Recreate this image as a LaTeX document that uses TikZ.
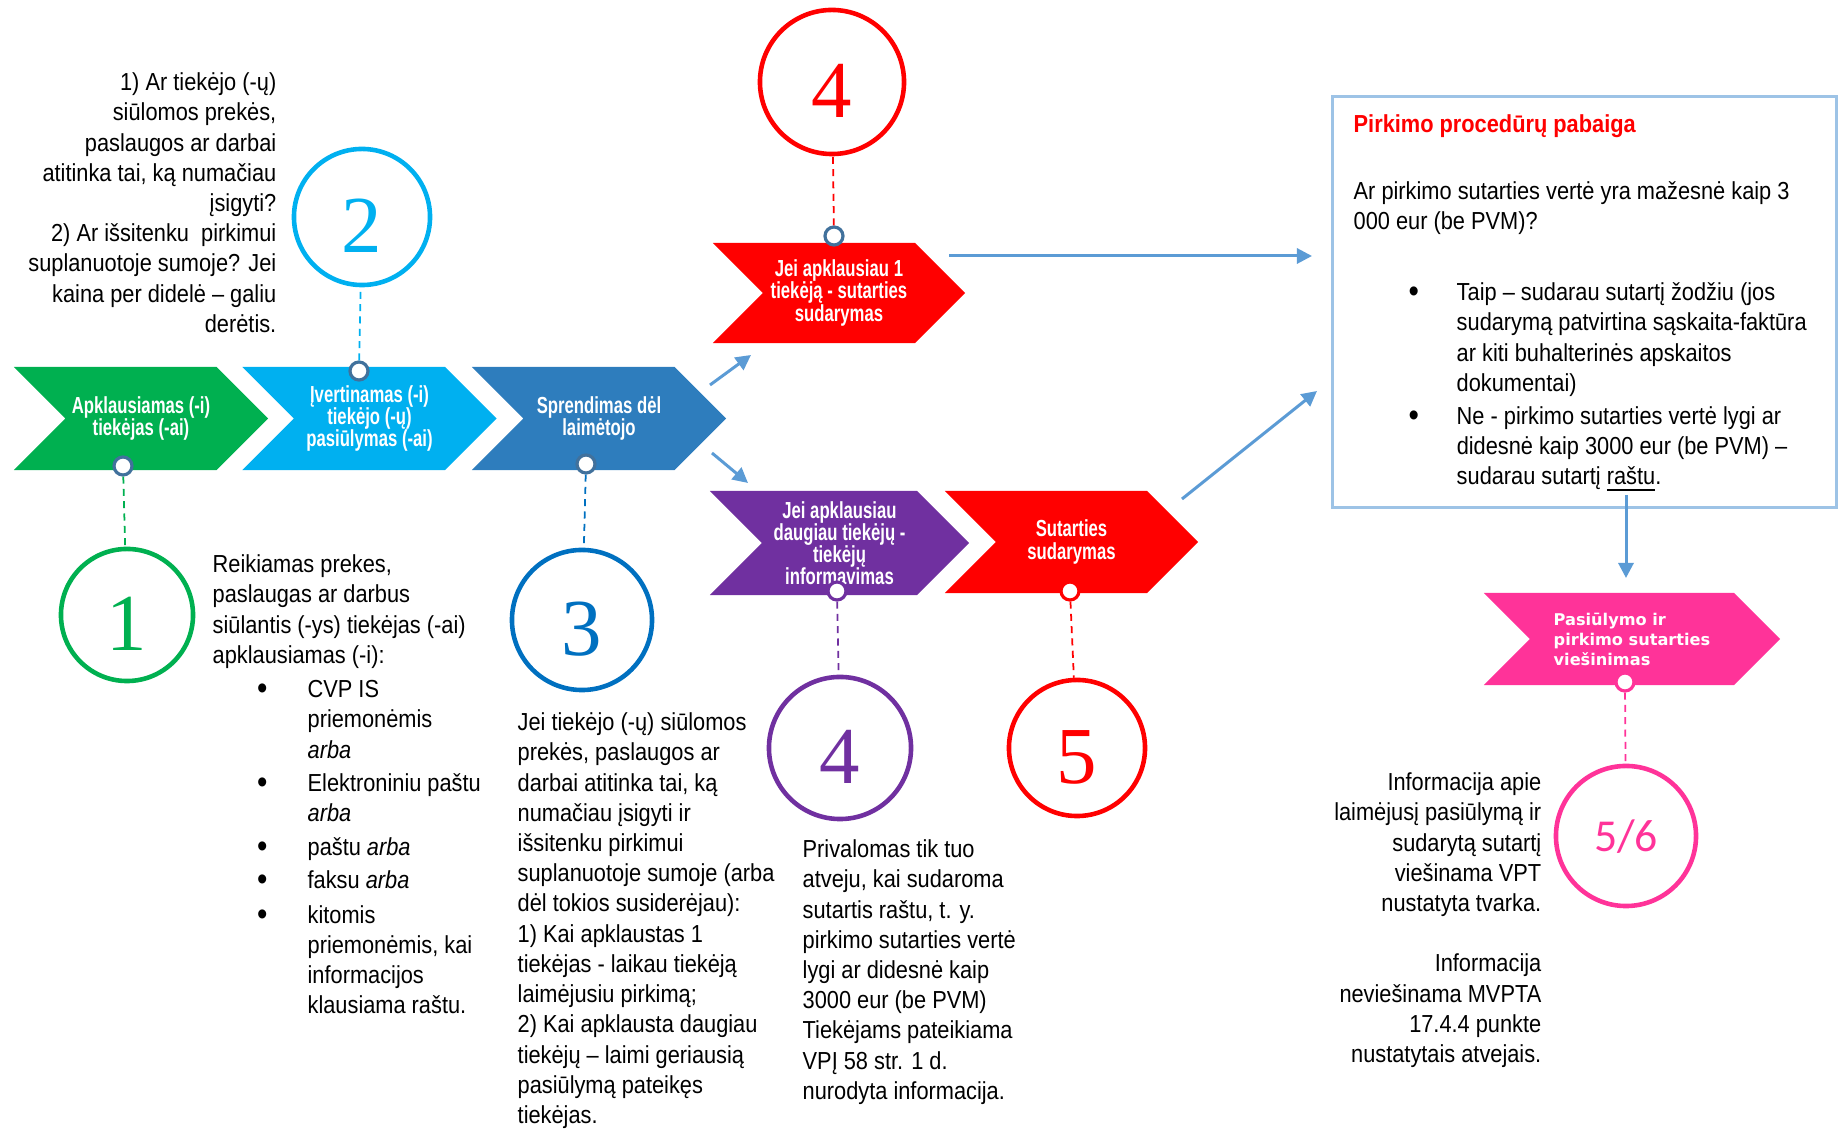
\documentclass[tikz,border=0pt]{standalone}
\usepackage{fontspec}
\usetikzlibrary{shapes.symbols,arrows.meta}
\newfontfamily\bodyFont[FakeStretch=0.885]{Liberation Sans}
\newfontfamily\chevronFont[FakeStretch=0.72]{Liberation Sans}
\newfontfamily\pinkFont{DejaVu Sans}
\newfontfamily\ringFont{Liberation Serif}
\newfontfamily\fracFont{Carlito}
\definecolor{cGreen}{HTML}{00B050}
\definecolor{cSky}{HTML}{00B0F0}
\definecolor{cSteel}{HTML}{2E7DBD}
\definecolor{cNavy}{HTML}{0070C0}
\definecolor{cRed}{HTML}{FF0000}
\definecolor{cPurple}{HTML}{7030A0}
\definecolor{cPink}{HTML}{FF3399}
\definecolor{cArrow}{HTML}{5B9BD5}
\definecolor{cFrame}{HTML}{9DC3E6}
\definecolor{cDot}{HTML}{41719C}
\newcommand{\bigdot}{\raisebox{-0.6pt}{\fontsize{9.5}{9.5}\selectfont\textbullet}}
\newcommand{\bul}{\makebox[27pt][l]{\hspace*{12.6pt}\bigdot}}
\newcommand{\ind}{\hspace*{27pt}}
\newcommand{\bbul}{\makebox[29.3pt][l]{\hspace*{15.6pt}\bigdot}}
\newcommand{\bind}{\hspace*{29.3pt}}
\begin{document}
\begin{tikzpicture}
[x=0.01cm,y=-0.01cm,
  chevronDecorate/.style={shape=signal,signal from=west,signal to=east,
    signal pointer angle=90,inner sep=0pt,fill=#1,text=white,align=center,
    font=\chevronFont\bfseries\fontsize{6.6}{6.3}\selectfont},
  ringDecorate/.style={shape=circle,draw=#1,text=#1,line width=1.3pt,inner sep=0pt,
    font=\ringFont\fontsize{23}{24}\selectfont,text height=20pt,text depth=0pt},
  dotDecorate/.style={shape=circle,draw=#1,fill=white,line width=0.9pt,
    minimum size=0.18cm,inner sep=0pt},
  linkDecorate/.style={draw=#1,line width=0.5pt,dash pattern=on 2pt off 1.5pt},
  arrowDecorate/.style={draw=cArrow,line width=0.85pt,-{Triangle[length=4.3pt,width=4.3pt]}},
  noteDecorate/.style={inner sep=0pt,font=\bodyFont\fontsize{7}{8.6}\selectfont},
  scale=1]
\useasboundingbox (0,0) rectangle (1841,1131);
%% chevrons
\foreach \nodename/\x/\y/\w/\h/\col/\txt in {
  s1/141/418.5/2.54/1.03/cGreen/{Apklausiamas (-i)\\tiekėjas (-ai)},
  s2/369.5/418.5/2.54/1.03/cSky/{Įvertinamas (-i)\\tiekėjo (-ų)\\pasiūlymas (-ai)},
  s3/599/418.5/2.54/1.03/cSteel/{Sprendimas dėl\\laimėtojo},
  s4/839/293/2.52/1.00/cRed/{Jei apklausiau 1\\tiekėją - sutarties\\sudarymas},
  s5/839.5/543/2.59/1.04/cPurple/{Jei apklausiau\\daugiau tiekėjų -\\tiekėjų\\informavimas},
  s6/1071.5/542/2.53/1.02/cRed/{Sutarties\\sudarymas}}
{
  \node (\nodename) at (\x,\y) [chevronDecorate=\col,minimum width=\w cm,minimum height=\h cm] {\txt};
}
\node (s7) at (1632,639) [chevronDecorate=cPink,minimum width=2.96cm,minimum height=0.92cm,
  align=left,font=\pinkFont\bfseries\fontsize{4.6}{5.7}\selectfont] {Pasiūlymo ir\\pirkimo sutarties\\viešinimas};
%% rings
\foreach \nodename/\x/\y/\d/\col/\num in {
  n1/127/615/1.32/cGreen/1, n2/362/217/1.36/cSky/2, n3/582/620/1.40/cNavy/3,
  n4/832/82/1.44/cRed/4, n5/840/748/1.42/cPurple/4, n6/1077/748/1.36/cRed/5}
{
  \node (\nodename) at (\x,\y) [ringDecorate=\col,minimum size=\d cm] {\num};
}
\node (n7) at (1626,836) [ringDecorate=cPink,minimum size=1.40cm,
  font=\fracFont\fontsize{13}{14}\selectfont,text height=9pt] {5/6};
%% small dots on the chevrons
\foreach \nodename/\x/\y/\col in {
  d1/123/466/cDot, d2/359/371/cDot, d3/586/464/cDot, d4/834/236/cDot,
  d5/837/591/cPurple, d6/1070/591/cRed, d7/1625/682/cPink}
{
  \node (\nodename) at (\x,\y) [dotDecorate=\col] {};
}
%% dashed links
\path
\foreach \startnode/\endnode/\col in {
  d1/n1/cGreen, d2/n2/cSky, d3/n3/cNavy, d4/n4/cRed,
  d5/n5/cPurple, d6/n6/cRed, d7/n7/cPink}
{
  (\startnode) edge[linkDecorate=\col] (\endnode)
};
%% end box
\node (endBox) at (1584.5,302) [draw=cFrame,line width=0.8pt,
  minimum width=5.03cm,minimum height=4.10cm] {};
%% arrows
\foreach \nodename/\x/\y in {
  a1s/710/385, a1e/751/355, a2s/712/453, a2e/748/483,
  a3s/949/256, a3e/1312/256, a4s/1182/499, a4e/1317/391,
  a5s/1626/495, a5e/1626/578}
{
  \coordinate (\nodename) at (\x,\y);
}
\path
\foreach \startnode/\endnode in {a1s/a1e, a2s/a2e, a3s/a3e, a4s/a4e, a5s/a5e}
{
  (\startnode) edge[arrowDecorate] (\endnode)
};
%% notes
\node (checkText) at (277,72) [noteDecorate,anchor=north east,align=right]
  {1) Ar tiekėjo (-ų)\\siūlomos prekės,\\paslaugos ar darbai\\atitinka tai, ką numačiau\\įsigyti?\\
   2) Ar išsitenku\ \ pirkimui\\suplanuotoje sumoje? Jei\\kaina per didelė – galiu\\derėtis.};
\node (pollText) at (212,554) [noteDecorate,anchor=north west,align=left]
  {Reikiamas prekes,\\paslaugas ar darbus\\siūlantis (-ys) tiekėjas (-ai)\\apklausiamas (-i):\\[1.2pt]
   \bul CVP IS\\\ind priemonėmis\\\ind \textit{arba}\\[0.9pt]
   \bul Elektroniniu paštu\\\ind \textit{arba}\\[0.9pt]
   \bul paštu \textit{arba}\\[0.9pt]
   \bul faksu \textit{arba}\\[1.2pt]
   \bul kitomis\\\ind priemonėmis, kai\\\ind informacijos\\\ind klausiama raštu.};
\node (decideText) at (517,712) [noteDecorate,anchor=north west,align=left]
  {Jei tiekėjo (-ų) siūlomos\\prekės, paslaugos ar\\darbai atitinka tai, ką\\numačiau įsigyti ir\\
   išsitenku pirkimui\\suplanuotoje sumoje (arba\\dėl tokios susiderėjau):\\1) Kai apklaustas 1\\
   tiekėjas - laikau tiekėją\\laimėjusiu pirkimą;\\2) Kai apklausta daugiau\\
   tiekėjų – laimi geriausią\\pasiūlymą pateikęs\\tiekėjas.};
\node (writtenText) at (802,839) [noteDecorate,anchor=north west,align=left]
  {Privalomas tik tuo\\atveju, kai sudaroma\\sutartis raštu, t. y.\\pirkimo sutarties vertė\\
   lygi ar didesnė kaip\\3000 eur (be PVM)\\Tiekėjams pateikiama\\VPĮ 58 str. 1 d.\\nurodyta informacija.};
\node (publishText) at (1542,772) [noteDecorate,anchor=north east,align=right]
  {Informacija apie\\laimėjusį pasiūlymą ir\\sudarytą sutartį\\viešinama VPT\\nustatyta tvarka.\\[8.6pt]
   Informacija\\neviešinama MVPTA\\17.4.4 punkte\\nustatytais atvejais.};
\node (boxText) at (1353,114) [noteDecorate,anchor=north west,align=left]
  {{\bfseries\color{cRed}Pirkimo procedūrų pabaiga}\\[10.4pt]
   Ar pirkimo sutarties vertė yra mažesnė kaip 3\\000 eur (be PVM)?\\[11.6pt]
   \bbul Taip – sudarau sutartį žodžiu (jos\\\bind sudarymą patvirtina sąskaita-faktūra\\
   \bind ar kiti buhalterinės apskaitos\\\bind dokumentai)\\[0.8pt]
   \bbul Ne - pirkimo sutarties vertė lygi ar\\\bind didesnė kaip 3000 eur (be PVM) –\\
   \bind sudarau sutartį \underline{raštu}.};
\end{tikzpicture}
\end{document}
